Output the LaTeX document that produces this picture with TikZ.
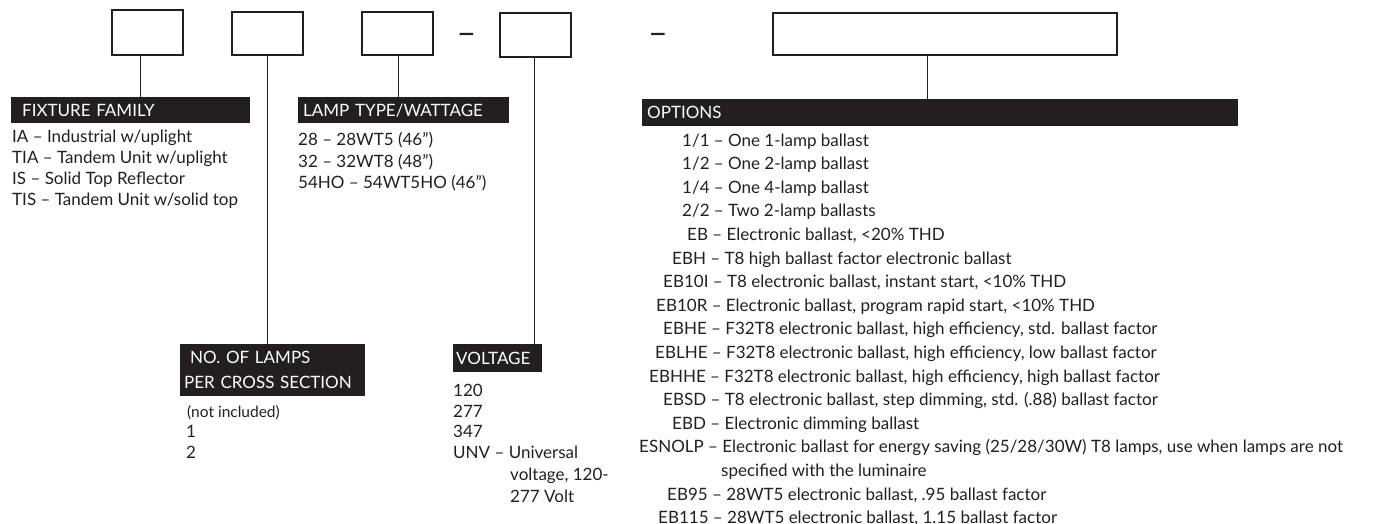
\documentclass[tikz,border=0pt]{standalone}
\usepackage{fontspec}
\setmainfont{Lato}
\definecolor{ink}{HTML}{231F20}
\newcommand\myfs{\fontsize{17}{20}\selectfont}
\newcommand\mysmall{\fontsize{15.5}{18}\selectfont}
\begin{document}
\begin{tikzpicture}[x=1pt,y=-1pt,
  codebox/.style={draw=ink, line width=1.3pt, inner sep=0pt},
  band/.style={fill=ink, text=white, anchor=north west, inner ysep=0pt, font=\myfs, align=left},
  txt/.style={anchor=base west, inner sep=0pt, text=ink, font=\myfs},
  link/.style={draw=ink, line width=0.9pt},
  dashmark/.style={inner sep=0pt, anchor=mid, text=ink, font=\fontsize{34}{36}\selectfont}]
\useasboundingbox (0,0) rectangle (1374,523);
% code boxes
\node[codebox, minimum width=71pt, minimum height=45pt] (b1) at (147.5,32.5) {};
\node[codebox, minimum width=71pt, minimum height=43pt] (b2) at (267.5,33.5) {};
\node[codebox, minimum width=71pt, minimum height=43pt] (b3) at (397.5,33.5) {};
\node[codebox, minimum width=71pt, minimum height=44pt] (b4) at (535.5,35) {};
\node[codebox, minimum width=344pt, minimum height=42pt] (b5) at (945,34) {};
\node[dashmark] (d1) at (466.5,41.5) {--};
\node[dashmark] (d2) at (658,41.5) {--};
% bands
\node[band, minimum height=26pt, inner xsep=11pt, text width=217pt] (fam) at (11,97) {FIXTURE FAMILY};
\node[band, minimum height=26pt, inner xsep=5pt, text width=201pt] (lamp) at (298,97) {LAMP TYPE/WATTAGE};
\node[band, minimum height=27pt, inner xsep=5pt, text width=586pt] (opt) at (642,99) {OPTIONS};
\node[band, minimum height=52pt, inner xsep=4pt, text width=177pt, font=\fontsize{17}{25}\selectfont] (num) at (180,344) {\hspace{6pt}NO. OF LAMPS\\PER CROSS SECTION};
\node[band, minimum height=28pt, inner xsep=3pt, text width=83pt] (volt) at (453,344) {VOLTAGE};
% connectors
\coordinate (c1) at (140,97);
\coordinate (c2) at (267,344);
\coordinate (c3) at (398,97);
\coordinate (c4) at (534,344);
\coordinate (c5) at (927,99);
\draw[link] (b1.south -| c1) -- (c1);
\draw[link] (b2.south -| c2) -- (c2);
\draw[link] (b3.south -| c3) -- (c3);
\draw[link] (b4.south -| c4) -- (c4);
\draw[link] (b5.south -| c5) -- (c5);
% fixture family
\node[txt] (f1) at (12,142) {IA -- Industrial w/uplight};
\node[txt] (f2) at (12,163) {TIA -- Tandem Unit w/uplight};
\node[txt] (f3) at (12,184) {IS -- Solid Top Reflector};
\node[txt] (f4) at (12,205) {TIS -- Tandem Unit w/solid top};
% lamp type
\node[txt] (l1) at (298,145) {28 -- 28WT5 (46")};
\node[txt] (l2) at (298,167) {32 -- 32WT8 (48")};
\node[txt] (l3) at (298,188) {54HO -- 54WT5HO (46")};
% number of lamps
\node[txt, font=\mysmall] (n0) at (187,417) {(not included)};
\node[txt] (n1) at (186,437) {1};
\node[txt] (n2) at (186,458) {2};
% voltage
\node[txt] (v1) at (453,396) {120};
\node[txt] (v2) at (453,417) {277};
\node[txt] (v3) at (453,437) {347};
\node[txt] (v4) at (453,458) {UNV -- Universal};
\node[txt] (v5) at (510,480) {voltage, 120-};
\node[txt] (v6) at (510,502) {277 Volt};
% options
\node[txt] (o1) at (682,146.0) {1/1 -- One 1-lamp ballast};
\node[txt] (o2) at (682,169.6) {1/2 -- One 2-lamp ballast};
\node[txt] (o3) at (682,193.2) {1/4 -- One 4-lamp ballast};
\node[txt] (o4) at (682,216.8) {2/2 -- Two 2-lamp ballasts};
\node[txt] (o5) at (687,240.4) {EB -- Electronic ballast, <20\% THD};
\node[txt] (o6) at (672,264.0) {EBH -- T8 high ballast factor electronic ballast};
\node[txt] (o7) at (663,287.6) {EB10I -- T8 electronic ballast, instant start, <10\% THD};
\node[txt] (o8) at (656,311.2) {EB10R -- Electronic ballast, program rapid start, <10\% THD};
\node[txt] (o9) at (663,334.8) {EBHE -- F32T8 electronic ballast, high efficiency, std. ballast factor};
\node[txt] (o10) at (655,358.4) {EBLHE -- F32T8 electronic ballast, high efficiency, low ballast factor};
\node[txt] (o11) at (649,382.0) {EBHHE -- F32T8 electronic ballast, high efficiency, high ballast factor};
\node[txt] (o12) at (663,405.6) {EBSD -- T8 electronic ballast, step dimming, std. (.88) ballast factor};
\node[txt] (o13) at (672,429.2) {EBD -- Electronic dimming ballast};
\node[txt] (o14) at (639,452.8) {ESNOLP -- Electronic ballast for energy saving (25/28/30W) T8 lamps, use when lamps are not};
\node[txt] (o15) at (721,476.4) {specified with the luminaire};
\node[txt] (o16) at (667,500.0) {EB95 -- 28WT5 electronic ballast, .95 ballast factor};
\node[txt] (o17) at (658,523.6) {EB115 -- 28WT5 electronic ballast, 1.15 ballast factor};
\end{tikzpicture}
\end{document}
